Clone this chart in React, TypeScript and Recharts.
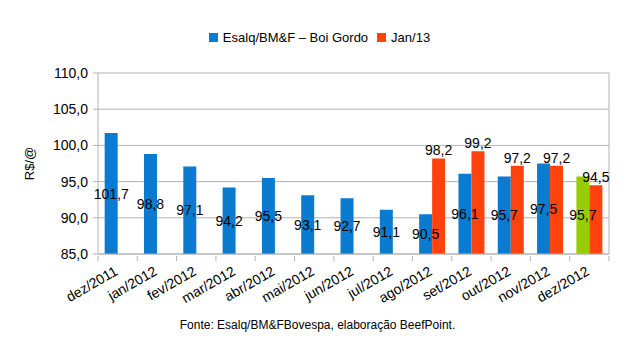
import React from 'react';
import { BarChart, Bar, XAxis, YAxis, CartesianGrid, LabelList, Cell } from 'recharts';

const categories = ['dez/2011', 'jan/2012', 'fev/2012', 'mar/2012', 'abr/2012', 'mai/2012', 'jun/2012', 'jul/2012', 'ago/2012', 'set/2012', 'out/2012', 'nov/2012', 'dez/2012'];
const boiGordo = [101.7, 98.8, 97.1, 94.2, 95.5, 93.1, 92.7, 91.1, 90.5, 96.1, 95.7, 97.5, 95.7];
const jan13: (number | null)[] = [null, null, null, null, null, null, null, null, 98.2, 99.2, 97.2, 97.2, 94.5];
const yTicks = [85, 90, 95, 100, 105, 110];
const seriesNames = ['Esalq/BM&F – Boi Gordo', 'Jan/13'];
const sourceText = 'Fonte: Esalq/BM&FBovespa, elaboração BeefPoint.';

const BLUE = '#0a7bcf';
const RED = '#ff420e';
const GREEN = '#99cc00';
const GRID = '#b3b3b3';
const FONT = '"Liberation Sans", Arial, sans-serif';

const W = 635;
const H = 353;
const MARGIN = { top: 73, right: 25, bottom: 49, left: 0 };
const YW = 98;
const plotW = W - MARGIN.left - YW - MARGIN.right - 1;
const bw = plotW / categories.length;

const data = categories.map((c, i) => ({ cat: c, boi: boiGordo[i], jan: jan13[i] }));

const fmt = (v: any) => (v == null ? '' : Number(v).toFixed(1).replace('.', ','));

const XTick = (props: any) => {
  const { x, y, payload, index } = props;
  const last = index === categories.length - 1;
  const ax = x + 1;
  const ay = y + 18;
  return (
    <g>
      <line x1={x - bw / 2} x2={x - bw / 2} y1={y} y2={y + 5} stroke={GRID} />
      {last && <line x1={x + bw / 2} x2={x + bw / 2} y1={y} y2={y + 5} stroke={GRID} />}
      <text
        x={ax}
        y={ay}
        textAnchor="end"
        fontSize={14}
        fontFamily={FONT}
        fill="#000"
        transform={`rotate(-30 ${ax} ${ay})`}
      >
        {payload.value}
      </text>
    </g>
  );
};

export default function App() {
  const colors = [BLUE, RED];
  return (
    <div style={{ position: 'absolute', left: 0, top: 0, width: W, height: H, background: '#fff', fontFamily: FONT }}>
      <BarChart width={W} height={H} data={data} margin={MARGIN} barCategoryGap="17%" barGap={0}>
        <CartesianGrid vertical={false} stroke={GRID} yAxisId="l" />
        <XAxis
          dataKey="cat"
          tick={<XTick />}
          tickLine={false}
          tickSize={0}
          height={50}
          axisLine={{ stroke: GRID }}
          interval={0}
        />
        <YAxis
          yAxisId="l"
          domain={[85, 110]}
          ticks={yTicks}
          width={YW}
          tickFormatter={fmt}
          tick={{ fontSize: 14, fill: '#000', fontFamily: FONT }}
          tickSize={5}
          tickMargin={5}
          tickLine={{ stroke: GRID }}
          axisLine={{ stroke: GRID }}
          allowDataOverflow
          label={{ value: 'R$/@', angle: -90, position: 'insideLeft', offset: 29, style: { fontSize: 13, fill: '#000', fontFamily: FONT, textAnchor: 'middle' } }}
        />
        <YAxis yAxisId="r" orientation="right" domain={[85, 110]} width={1} tick={false} tickLine={false} axisLine={{ stroke: GRID }} />
        <Bar dataKey="boi" yAxisId="l" fill={BLUE} isAnimationActive={false}>
          {data.map((d, i) => (
            <Cell key={i} fill={i === data.length - 1 ? GREEN : BLUE} />
          ))}
          <LabelList dataKey="boi" position="center" formatter={fmt} style={{ fontSize: 14, fill: '#000', fontFamily: FONT }} />
        </Bar>
        <Bar dataKey="jan" yAxisId="l" fill={RED} isAnimationActive={false}>
          <LabelList dataKey="jan" position="top" offset={3} formatter={fmt} style={{ fontSize: 14, fill: '#000', fontFamily: FONT }} />
        </Bar>
      </BarChart>
      <div style={{ position: 'absolute', top: 30, left: 0, width: W, display: 'flex', justifyContent: 'center', fontSize: 13, color: '#000', gap: 9, paddingLeft: 4, boxSizing: 'border-box' }}>
        {seriesNames.map((n, i) => (
          <div key={n} style={{ display: 'flex', alignItems: 'center' }}>
            <span style={{ display: 'inline-block', width: 9, height: 9, background: colors[i], marginRight: 5 }} />
            <span>{n}</span>
          </div>
        ))}
      </div>
      <div style={{ position: 'absolute', top: 318, left: 0, width: W, textAlign: 'center', fontSize: 12, color: '#000' }}>{sourceText}</div>
    </div>
  );
}
